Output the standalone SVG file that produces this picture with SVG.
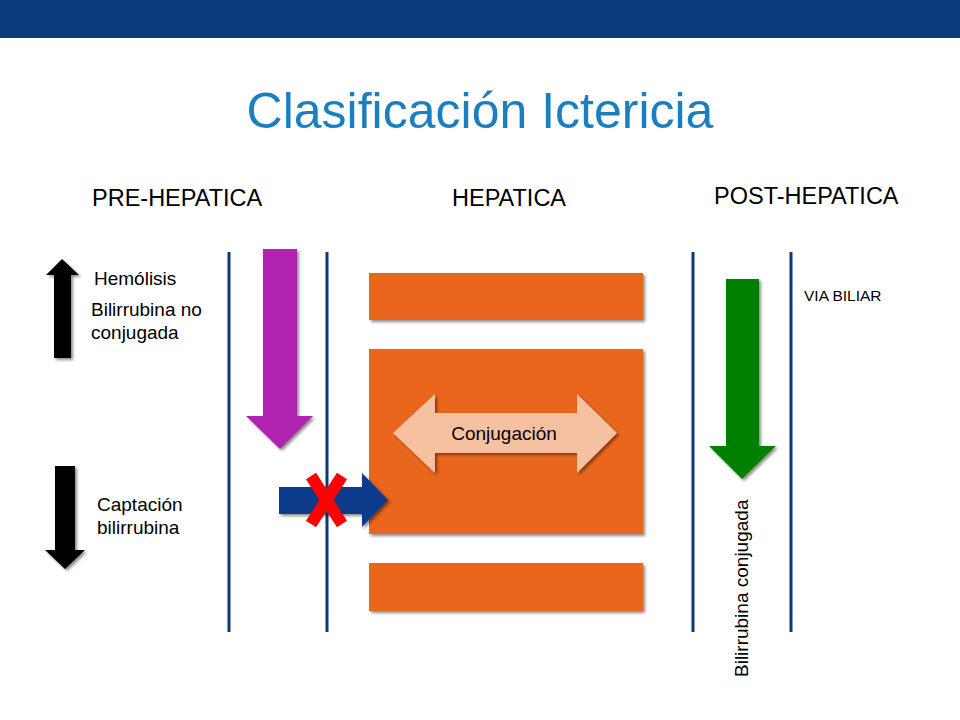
<svg xmlns="http://www.w3.org/2000/svg" width="960" height="720" viewBox="0 0 960 720">
<defs>
<filter id="sh" x="-20%" y="-20%" width="150%" height="150%">
<feDropShadow dx="2" dy="2" stdDeviation="1.5" flood-color="#000" flood-opacity="0.45"/>
</filter>
<style>
.t{font-family:"Liberation Sans",Arial,sans-serif;fill:#000}
.h{font-size:23.5px}
.s{font-size:19px}
.vl{stroke:#0b3a7a;stroke-width:3}
.or{fill:#e9661a;filter:url(#sh)}
</style>
</defs>
<rect x="0" y="0" width="960" height="38" fill="#0b3a7c"/>
<text x="480" y="128" text-anchor="middle" font-family="Liberation Sans,Arial,sans-serif" font-size="50" fill="#1a7fc1">Clasificación Ictericia</text>
<g id="headers">
<text class="t h" x="92" y="206">PRE-HEPATICA</text>
<text class="t h" x="452" y="206">HEPATICA</text>
<text class="t h" x="714" y="204">POST-HEPATICA</text>
</g>
<g id="lines">
<line class="vl" x1="229" y1="252" x2="229" y2="632"/>
<line class="vl" x1="327" y1="252" x2="327" y2="632"/>
<line class="vl" x1="693" y1="252" x2="693" y2="632"/>
<line class="vl" x1="791" y1="252" x2="791" y2="632"/>
</g>
<g id="hepatocyte">
<rect class="or" x="369" y="273" width="274" height="47"/>
<rect class="or" x="369" y="349" width="274" height="185"/>
<rect class="or" x="369" y="563" width="274" height="48"/>
</g>
<g id="conjugacion">
<polygon points="393,433 435,394 435,413 577,413 577,394 617,433 577,473 577,453 435,453 435,473" fill="#f5c1a0" filter="url(#sh)"/>
<text class="t s" x="504" y="440" text-anchor="middle">Conjugación</text>
</g>
<g id="connectors">
<polygon id="up-arrow" points="62,259 79,275 71,275 71,358 54,358 54,275 46,275" fill="#000" filter="url(#sh)"/>
<polygon id="down-arrow" points="55,466 75,466 75,550 85,550 65,569 45,550 55,550" fill="#000" filter="url(#sh)"/>
<polygon id="purple-arrow" points="263,249 297,249 297,416 313,416 280,449 246,416 263,416" fill="#b023b0" filter="url(#sh)"/>
<polygon id="blue-arrow" points="279,487 362,487 362,473 388,500 362,527 362,514 279,514" fill="#0b3a8c" filter="url(#sh)"/>
<polygon id="green-arrow" points="726,279 759,279 759,446 776,446 742,479 709,446 726,446" fill="#008000" filter="url(#sh)"/>
<g id="x-mark" stroke="#ff0000" stroke-width="12" stroke-linecap="butt">
<line x1="311" y1="476" x2="342" y2="524"/>
<line x1="342" y1="476" x2="311" y2="524"/>
</g>
</g>
<g id="labels">
<text class="t s" x="94" y="285">Hemólisis</text>
<text class="t s" x="91" y="316">Bilirrubina no</text>
<text class="t s" x="91" y="339">conjugada</text>
<text class="t s" x="97" y="511">Captación</text>
<text class="t s" x="97" y="534">bilirrubina</text>
<text class="t" x="804" y="301" font-size="15.5">VIA BILIAR</text>
<text class="t s" transform="translate(748,677) rotate(-90)">Bilirrubina conjugada</text>
</g>
</svg>
